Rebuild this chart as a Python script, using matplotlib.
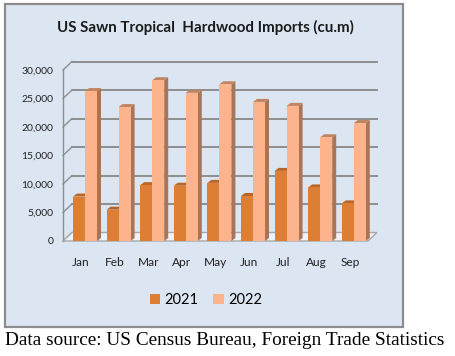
import matplotlib
matplotlib.use("Agg")
import matplotlib.pyplot as plt
from matplotlib.patches import Rectangle, Polygon, Patch
from matplotlib.lines import Line2D
import matplotlib.transforms as mtransforms
import numpy as np

months = ["Jan", "Feb", "Mar", "Apr", "May", "Jun", "Jul", "Aug", "Sep"]
v2021 = [7800, 5500, 9800, 9700, 10200, 7900, 12300, 9400, 6600]
v2022 = [26300, 23500, 28200, 26000, 27500, 24400, 23700, 18200, 20700]
yticks = [0, 5000, 10000, 15000, 20000, 25000, 30000]
ytick_labels = ["0", "5,000", "10,000", "15,000", "20,000", "25,000", "30,000"]
series_names = ["2021", "2022"]
title = "US Sawn Tropical  Hardwood Imports (cu.m)"
source = "Data source: US Census Bureau, Foreign Trade Statistics"

W, H = 455, 356
DPI = 100
fig = plt.figure(figsize=(W / DPI, H / DPI), dpi=DPI)
fig.patch.set_facecolor("white")

def fx(px):
    return px / W

def fy(py):
    return 1 - py / H

# chart area box
fig.patches.append(Rectangle((fx(5), fy(327)), fx(403) - fx(5), fy(4) - fy(327),
                             transform=fig.transFigure, facecolor="#dce6f2",
                             edgecolor="#8c8c8c", linewidth=1.6, zorder=-5))

# front plane axes
left_px, right_px, bot_px, top_px = 63, 368, 241, 70
ax = fig.add_axes([fx(left_px), fy(bot_px), (right_px - left_px) / W, (bot_px - top_px) / H])
ax.set_zorder(2)
ax.set_facecolor("none")
for s in ax.spines.values():
    s.set_visible(False)
x = np.arange(len(months))
pitch = 33.6
xl0 = (left_px - 85) / pitch
xl1 = (right_px - 85) / pitch
ax.set_xlim(xl0, xl1)
ax.set_ylim(0, 30000)
ax.set_xticks([])
ax.set_yticks(yticks)
ax.set_yticklabels(ytick_labels, fontsize=7.5, family="Lato", color="#222222")
ax.tick_params(axis="y", length=0, pad=7)

# depth offsets (pixels)
wall_dx, wall_dy = 9, 8.5
back = ax.transData + mtransforms.ScaledTranslation(wall_dx / DPI, wall_dy / DPI, fig.dpi_scale_trans)
grid_col = "#8e8e8e"

# back wall gridlines and diagonals
for v in yticks:
    if v > 0:
        ax.add_line(Line2D([xl0, xl1], [v, v], transform=back, color=grid_col, lw=1.4, zorder=1, clip_on=False))
    p0 = ax.transData.transform((xl0, v))
    ax.add_line(Line2D([p0[0], p0[0] + wall_dx], [p0[1], p0[1] + wall_dy], transform=None,
                       color=grid_col, lw=1.0, zorder=1, clip_on=False))
ax.add_line(Line2D([xl0, xl0], [0, 30000], color=grid_col, lw=1.0, zorder=1, clip_on=False))

# floor
f0 = ax.transData.transform((xl0, 0))
f1 = ax.transData.transform((xl1, 0))
floor = Polygon([f0, f1, (f1[0] + wall_dx, f1[1] + wall_dy), (f0[0] + wall_dx, f0[1] + wall_dy)],
                closed=True, transform=None, facecolor="#eef2f8", edgecolor="#a8a8a8", lw=1.0,
                zorder=1.5, clip_on=False)
ax.add_patch(floor)

bw = 12 / pitch
bdx, bdy = 4, 3
styles = [
    dict(front="#dc7f35", side="#a85c22", cap="#b8662a"),
    dict(front="#fdb48c", side="#a97558", cap="#c08463"),
]
z = 2
for i in range(len(months)):
    for k, vals in enumerate([v2021, v2022]):
        st = styles[k]
        xc = x[i] + (k - 0.5) * bw
        bars = ax.bar([xc], [vals[i]], width=bw, color=st["front"], zorder=z + 0.2, linewidth=0)
        rect = bars[0]
        xl_, xr_ = rect.get_x(), rect.get_x() + rect.get_width()
        (pxl, pyb), (pxr, pyt) = ax.transData.transform([(xl_, 0), (xr_, vals[i])])
        side = Polygon([(pxr, pyb), (pxr, pyt), (pxr + bdx, pyt + bdy), (pxr + bdx, pyb + bdy)],
                       closed=True, transform=None, facecolor=st["side"], lw=0, zorder=z, clip_on=False)
        cap = Polygon([(pxl, pyt), (pxr, pyt), (pxr + bdx, pyt + bdy), (pxl + bdx, pyt + bdy)],
                      closed=True, transform=None, facecolor=st["cap"], lw=0, zorder=z + 0.1, clip_on=False)
        ax.add_patch(side)
        ax.add_patch(cap)
        z += 1

# month labels
lab_tr = mtransforms.blended_transform_factory(
    ax.transData + mtransforms.ScaledTranslation(-4 / DPI, 0, fig.dpi_scale_trans), fig.transFigure)
for i, m in enumerate(months):
    ax.text(x[i], fy(263), m, transform=lab_tr, fontsize=8.6, family="Lato", color="#222222",
            ha="center", va="center", clip_on=False)

fig.text(fx(205), fy(27), title, fontsize=10.9, family="Lato", fontweight="bold",
         color="#1a1a1a", ha="center", va="center")

handles = [Patch(facecolor=styles[0]["front"], edgecolor="none"),
           Patch(facecolor=styles[1]["front"], edgecolor="none")]
fig.legend(handles, series_names, loc="center", bbox_to_anchor=(fx(206), fy(300)), ncol=2,
           frameon=False, handlelength=0.7, handleheight=0.7, handletextpad=0.3,
           columnspacing=1.0, prop=dict(family="Lato", size=10.5))

fig.text(fx(5), fy(345), source, fontsize=13.9, family="Liberation Serif", color="black",
         ha="left", va="baseline")

fig.savefig("out.png", dpi=DPI)
